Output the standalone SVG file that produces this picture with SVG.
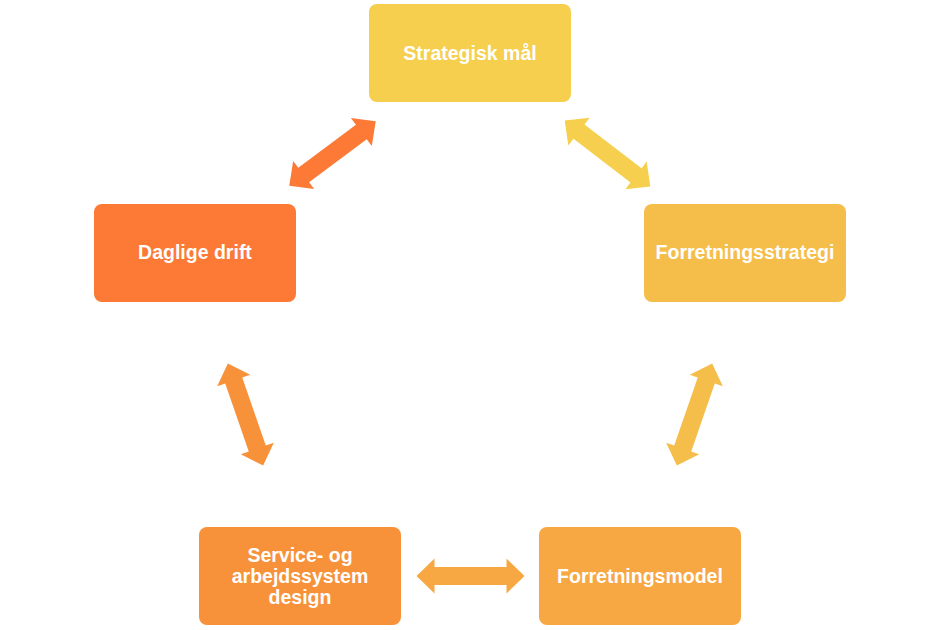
<svg xmlns="http://www.w3.org/2000/svg" width="940" height="630" viewBox="0 0 940 630">
<style>
.box{stroke:none}
.lbl{font-family:"Liberation Sans",Arial,sans-serif;font-weight:bold;font-size:19.5px;fill:#ffffff;text-anchor:middle}
</style>
<defs>
<path id="dbl" d="M -54,0 L -36,-17.5 L -36,-9 L 36,-9 L 36,-17.5 L 54,0 L 36,17.5 L 36,9 L -36,9 L -36,17.5 Z"/>
</defs>
<rect width="940" height="630" fill="#ffffff"/>
<g id="connectors">
<use href="#dbl" fill="#FC7A35" transform="translate(332.5,153.5) rotate(-36.8)"/>
<use href="#dbl" fill="#F5CF4D" transform="translate(607.5,153.5) rotate(37.6)"/>
<use href="#dbl" fill="#F7923B" transform="translate(245.5,414.5) rotate(70.9)"/>
<use href="#dbl" fill="#F5BE4A" transform="translate(694.5,414.5) rotate(109.1)"/>
<use href="#dbl" fill="#F7A843" transform="translate(470.5,576)"/>
</g>
<g id="n1">
<rect class="box" x="369" y="4" width="202" height="98" rx="8" fill="#F5CF4D"/>
<text class="lbl" x="470" y="60">Strategisk mål</text>
</g>
<g id="n2">
<rect class="box" x="644" y="204" width="202" height="98" rx="8" fill="#F5BE4A"/>
<text class="lbl" x="745" y="259">Forretningsstrategi</text>
</g>
<g id="n3">
<rect class="box" x="539" y="527" width="202" height="98" rx="8" fill="#F7A843"/>
<text class="lbl" x="640" y="583">Forretningsmodel</text>
</g>
<g id="n4">
<rect class="box" x="199" y="527" width="202" height="98" rx="8" fill="#F7923B"/>
<text class="lbl" x="300" y="562">Service- og</text>
<text class="lbl" x="300" y="583">arbejdssystem</text>
<text class="lbl" x="300" y="604">design</text>
</g>
<g id="n5">
<rect class="box" x="94" y="204" width="202" height="98" rx="8" fill="#FC7A35"/>
<text class="lbl" x="195" y="259">Daglige drift</text>
</g>
</svg>
